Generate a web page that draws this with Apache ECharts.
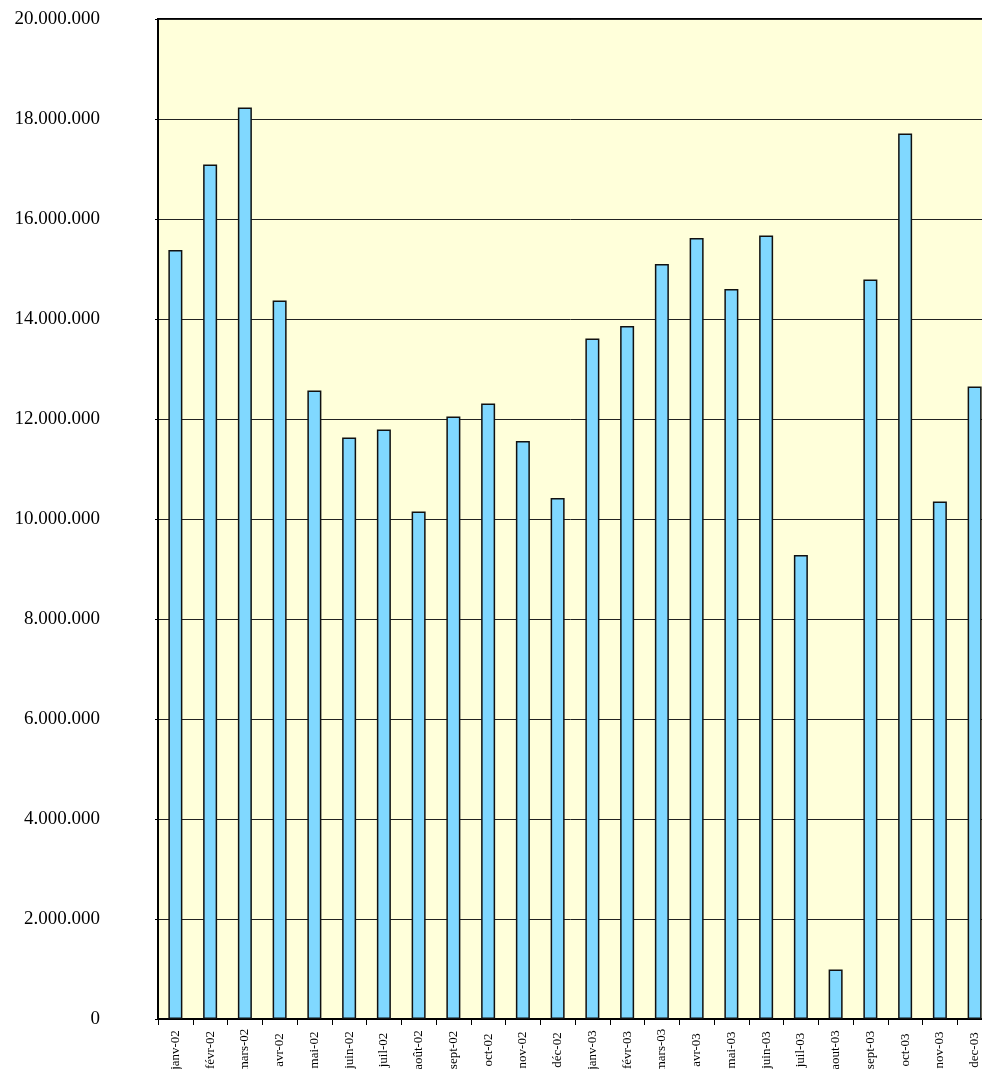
<!DOCTYPE html>
<html>
<head>
<meta charset="utf-8">
<title>Chart</title>
<script src="https://cdn.jsdelivr.net/npm/echarts@6/dist/echarts.min.js"></script>
<style>
  html, body { margin: 0; padding: 0; background: #fff; }
  #main { width: 982px; height: 1069px; }
</style>
</head>
<body>
<div id="main"></div>
<script>
// mois (catégories)
var months = ['janv-02', 'févr-02', 'mars-02', 'avr-02', 'mai-02', 'juin-02', 'juil-02', 'août-02',
  'sept-02', 'oct-02', 'nov-02', 'déc-02', 'janv-03', 'févr-03', 'mars-03', 'avr-03', 'mai-03',
  'juin-03', 'juil-03', 'aout-03', 'sept-03', 'oct-03', 'nov-03', 'dec-03']
// valeurs
var values = [15380000, 17090000, 18230000, 14370000, 12570000, 11630000, 11790000, 10150000,
  12050000, 12310000, 11560000, 10420000, 13610000, 13860000, 15100000, 15620000, 14600000,
  15670000, 9280000, 990000, 14790000, 17710000, 10350000, 12650000]
// axe Y
var yMin = 0
var yMax = 20000000
var yStep = 2000000

function fmt(v) {
  return String(v).replace(/\B(?=(\d{3})+(?!\d))/g, '.')
}

var chart = echarts.init(document.getElementById('main'))
var option = {
  animation: false,
  grid: {
    left: 158,
    top: 19,
    width: 834, // la dernière catégorie dépasse le cadre
    height: 1000,
    outerBoundsMode: 'none',
    containLabel: false,
    show: true,
    backgroundColor: '#FFFFDA',
    borderColor: '#000',
    borderWidth: 2,
  },
  xAxis: {
    type: 'category',
    data: months,
    axisLine: { lineStyle: { color: '#000', width: 2 } },
    axisTick: { show: true, length: 6, lineStyle: { color: '#000', width: 1 } },
    axisLabel: {
      rotate: 90,
      align: 'center',
      verticalAlign: 'middle',
      margin: 31,
      interval: 0,
      fontFamily: 'Liberation Serif',
      fontSize: 13,
      color: '#000',
    },
  },
  yAxis: {
    type: 'value',
    min: yMin,
    max: yMax,
    interval: yStep,
    axisLine: { show: true, lineStyle: { color: '#000', width: 2 } },
    axisTick: { show: true, length: 3, lineStyle: { color: '#000' } },
    splitLine: { lineStyle: { color: '#222', width: 1 } },
    axisLabel: {
      margin: 58,
      fontFamily: 'Liberation Serif',
      fontSize: 19,
      color: '#000',
      formatter: fmt,
    },
  },
  series: [
    {
      type: 'bar',
      data: values,
      barWidth: 14,
      itemStyle: {
        color: '#80D8FF',
        borderColor: '#111',
        borderWidth: 1.5,
      },
    },
  ],
}
chart.setOption(option)
</script>
</body>
</html>
